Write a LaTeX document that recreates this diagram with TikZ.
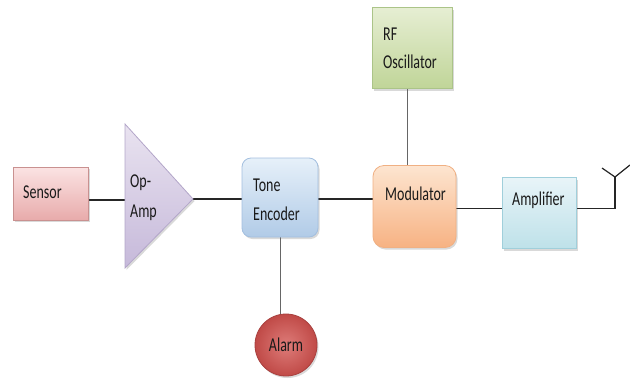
\documentclass[tikz,border=0pt]{standalone}
\usepackage{graphicx}
\usepackage{fontspec}
\setmainfont{Carlito}
\usetikzlibrary{shadows,backgrounds}
\newcommand\tstretch[1]{\scalebox{1}[1.4]{#1}}
\definecolor{senTop}{HTML}{FBE3E3}\definecolor{senBot}{HTML}{E8ABAB}\definecolor{senLn}{HTML}{C99190}
\definecolor{oaTop}{HTML}{E9E3F0}\definecolor{oaBot}{HTML}{C6B9DA}\definecolor{oaLn}{HTML}{B3A6C9}
\definecolor{toTop}{HTML}{E6F0F9}\definecolor{toBot}{HTML}{B1CBE7}\definecolor{toLn}{HTML}{A3BFDF}
\definecolor{moTop}{HTML}{FDE5D0}\definecolor{moBot}{HTML}{F7B283}\definecolor{moLn}{HTML}{F0B083}
\definecolor{rfTop}{HTML}{E6EED3}\definecolor{rfBot}{HTML}{C0D598}\definecolor{rfLn}{HTML}{ABC488}
\definecolor{amTop}{HTML}{E8F4F8}\definecolor{amBot}{HTML}{BEE1E9}\definecolor{amLn}{HTML}{A0CFDB}
\definecolor{alIn}{HTML}{DE7C79}\definecolor{alOut}{HTML}{C04A47}\definecolor{alLn}{HTML}{A8403E}
\definecolor{txt}{HTML}{1A1A1A}
\begin{document}
\begin{tikzpicture}[x=1pt,y=-1pt,
  shd/.style={drop shadow={shadow xshift=1.5pt,shadow yshift=-2pt,opacity=0.25,fill=black!60}},
  blk/.style={shd,line width=0.8pt,inner sep=0pt},
  lbl/.style={anchor=west,inner sep=0pt,text=txt,font=\fontsize{14}{17}\selectfont},
  wire/.style={line width=1.2pt,draw=black!85},
  gwire/.style={line width=0.9pt,draw=black!60}]
\useasboundingbox (0,0) rectangle (630,381);

% blocks
\node[blk,draw=senLn,top color=senTop,bottom color=senBot,minimum width=75pt,minimum height=53pt] (sensor) at (50.5,193.5) {};
\path[shd,line width=0.8pt,draw=oaLn,top color=oaTop,bottom color=oaBot]
  (125,124) coordinate (oa1) -- (193,199) coordinate (oatip) -- (125,268) coordinate (oa2) -- cycle;
\coordinate (oain) at (125,200);
\node[blk,draw=toLn,top color=toTop,bottom color=toBot,rounded corners=9pt,minimum width=76pt,minimum height=79pt] (tone) at (280,197.5) {};
\node[blk,draw=moLn,top color=moTop,bottom color=moBot,rounded corners=11pt,minimum width=83pt,minimum height=82pt] (mod) at (414.5,206.5) {};
\node[blk,draw=rfLn,top color=rfTop,bottom color=rfBot,minimum width=80pt,minimum height=81pt] (rf) at (412.5,48) {};
\node[blk,draw=amLn,top color=amTop,bottom color=amBot,minimum width=74pt,minimum height=71pt] (amp) at (539,213) {};
\node[shd,circle,draw=alLn,line width=0.8pt,inner color=alIn,outer color=alOut,minimum size=62pt,inner sep=0pt] (alarm) at (286,345) {};

% labels
\node[lbl] (sensorT) at (23,192) {\tstretch{Sensor}};
\node[lbl] (oaT1) at (130,183) {\tstretch{Op-}};
\node[lbl] (oaT2) at (130,213) {\tstretch{Amp}};
\node[lbl] (toT1) at (253,185) {\tstretch{Tone}};
\node[lbl] (toT2) at (253,214) {\tstretch{Encoder}};
\node[lbl] (moT) at (385,194) {\tstretch{Modulator}};
\node[lbl] (rfT1) at (383,34) {\tstretch{RF}};
\node[lbl] (rfT2) at (383,62) {\tstretch{Oscillator}};
\node[lbl] (amT) at (512,200) {\tstretch{Amplifier}};
\node[inner sep=0pt,text=txt,font=\fontsize{14}{17}\selectfont] (alT) at (alarm.center) {\tstretch{Alarm}};

% connectors
\coordinate (tm) at (373,199);
\coordinate (am) at (502,208.5);
\coordinate (ant) at (615,208.5);
\coordinate (anttop) at (615,177);
\coordinate (antl) at (602,168);
\coordinate (antr) at (630,165);
\coordinate (rfm) at (407,100);
\begin{scope}[on background layer]
\draw[wire] (sensor.east |- oain) -- (oain);
\draw[wire] (oatip) -- (tone.west |- oatip);
\draw[wire] (tone.east |- tm) -- (mod.west |- tm);
\draw[wire] (mod.east |- am) -- (amp.west |- am);
\draw[wire] (amp.east |- ant) -- (ant) -- (anttop);
\draw[wire] (antl) -- (anttop) -- (antr);
\draw[gwire] (rf.south -| rfm) -- (mod.north -| rfm);
\draw[gwire] (tone.south) -- (tone.south |- alarm.center);
\end{scope}
\end{tikzpicture}
\end{document}
